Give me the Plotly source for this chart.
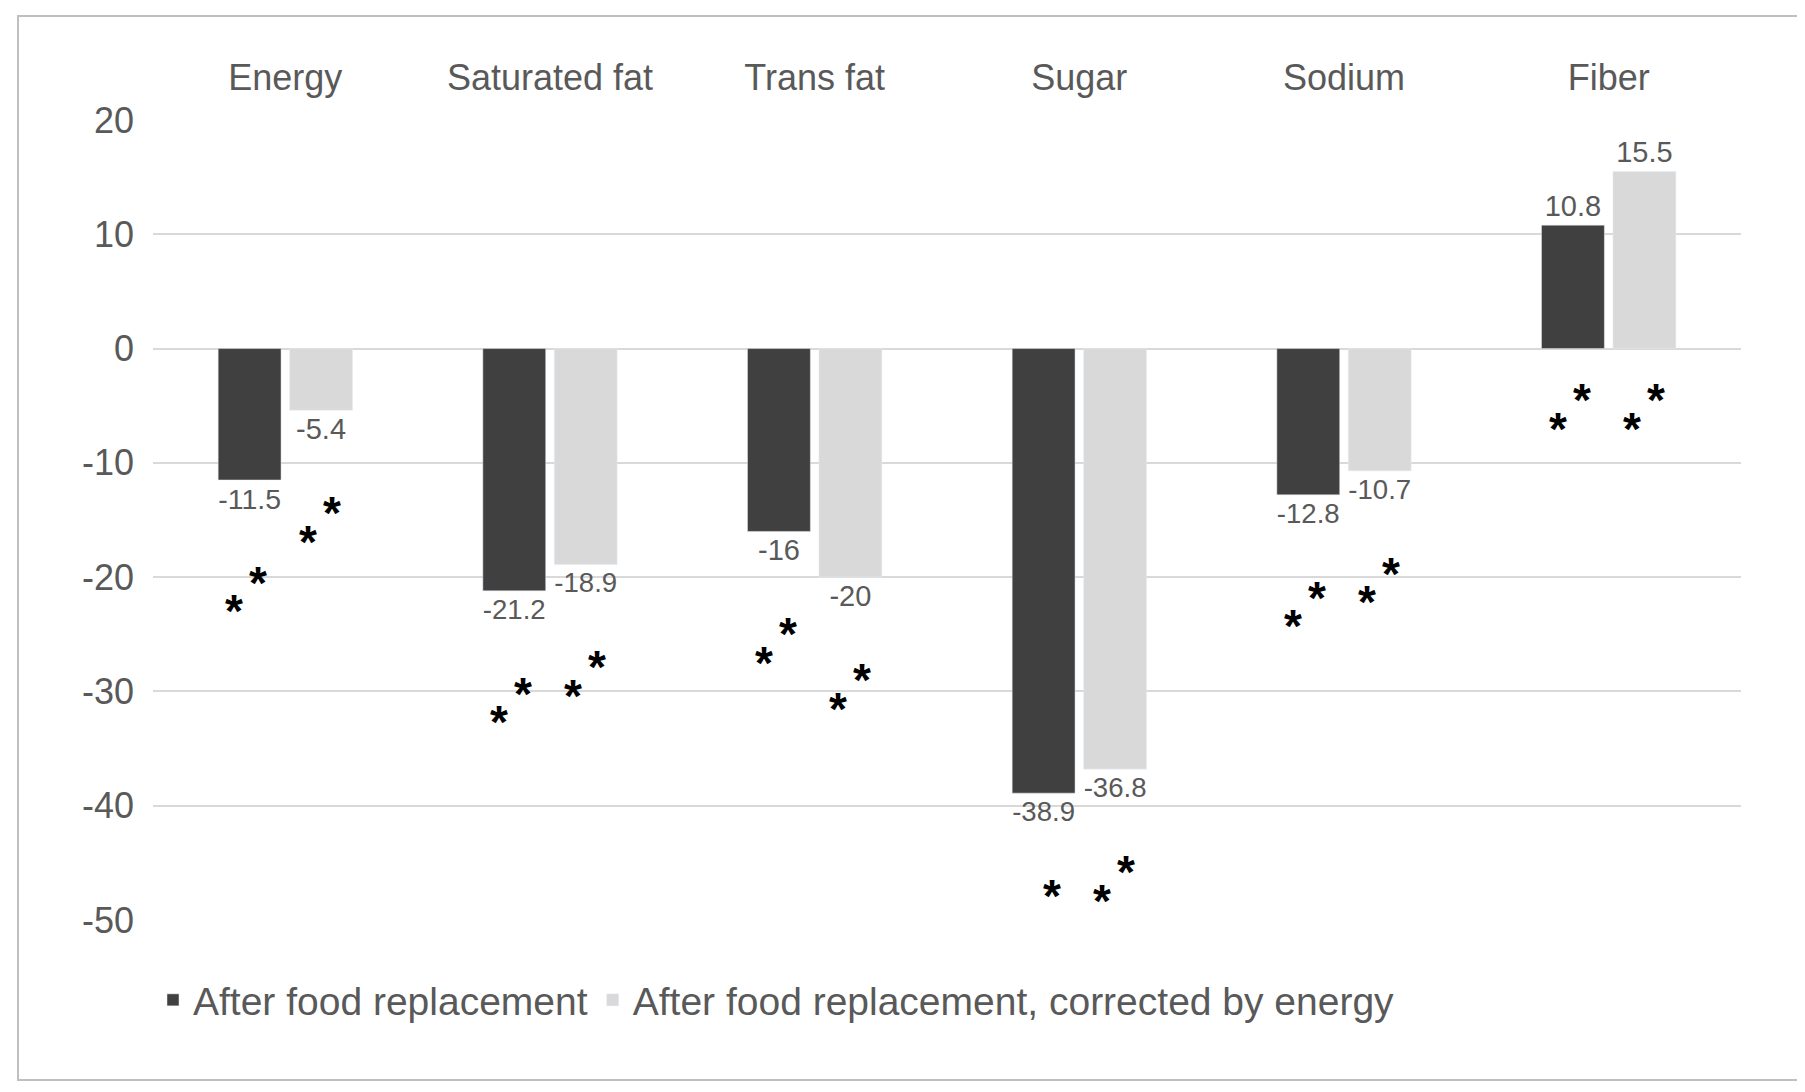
import plotly.graph_objects as go

categories = ["Energy", "Saturated fat", "Trans fat", "Sugar", "Sodium", "Fiber"]
after_replacement = [-11.5, -21.2, -16, -38.9, -12.8, 10.8]
after_corrected = [-5.4, -18.9, -20, -36.8, -10.7, 15.5]
y_ticks = [20, 10, 0, -10, -20, -30, -40, -50]

font = "Liberation Sans, Arial, sans-serif"
fig = go.Figure()
fig.add_trace(go.Bar(x=categories, y=after_replacement, name="After food replacement",
                     marker_color="#404040", text=after_replacement, textposition="outside",
                     textfont=dict(size=29, color="#595959"), cliponaxis=False))
fig.add_trace(go.Bar(x=categories, y=after_corrected, name="After food replacement, corrected by energy   ",
                     marker_color="#d9d9d9", text=after_corrected, textposition="outside",
                     textfont=dict(size=29, color="#595959"), cliponaxis=False))

# significance asterisks under each bar
for vals, shift in [(after_replacement, -37), (after_corrected, 37)]:
    for cat, v in zip(categories, vals):
        base = v - 4.5 if v < 0 else 0
        for dy, dx in [(-4.5, 10), (-7, -14)]:
            fig.add_annotation(x=cat, y=base + dy, text="<b>*</b>", showarrow=False, xshift=shift + dx,
                               font=dict(size=46, color="black", family=font))

fig.update_layout(
    width=1805, height=1092, plot_bgcolor="white", paper_bgcolor="white",
    font=dict(family=font, color="#595959"),
    margin=dict(l=145, r=72, t=112, b=180),
    barmode="group", bargap=0.46, bargroupgap=0.12,
    xaxis=dict(side="top", showline=False, ticks="", tickfont=dict(size=36), ticklabelstandoff=22),
    yaxis=dict(range=[-50, 20], tickvals=y_ticks, ticktext=[str(t) for t in y_ticks],
               gridcolor="#d9d9d9", gridwidth=2,
               zerolinecolor="#d9d9d9", zerolinewidth=2, tickfont=dict(size=36), ticklabelstandoff=18),
    legend=dict(orientation="h", x=0.0, xanchor="left", y=-0.06, yanchor="top",
                font=dict(size=39), itemwidth=30),
    shapes=[dict(type="rect", xref="paper", yref="paper", x0=-0.085, x1=1.04, y0=-0.2, y1=1.13,
                 line=dict(color="#bfbfbf", width=2))],
)
fig.write_html("out.html")
